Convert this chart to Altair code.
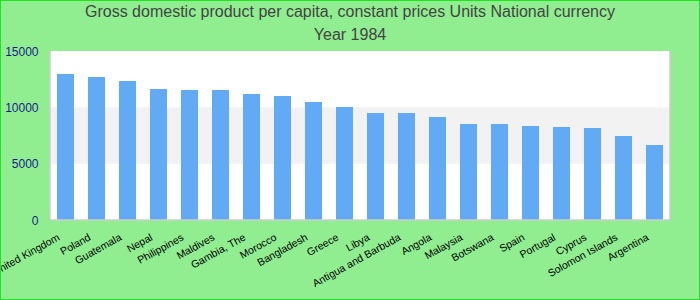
import altair as alt
import pandas as pd

countries = ["United Kingdom", "Poland", "Guatemala", "Nepal", "Philippines", "Maldives",
             "Gambia, The", "Morocco", "Bangladesh", "Greece", "Libya", "Antigua and Barbuda",
             "Angola", "Malaysia", "Botswana", "Spain", "Portugal", "Cyprus",
             "Solomon Islands", "Argentina"]
values = [12950, 12690, 12330, 11630, 11540, 11540, 11180, 11000, 10470, 10030,
          9490, 9490, 9140, 8520, 8520, 8340, 8250, 8160, 7450, 6650]
y_ticks = [0, 5000, 10000, 15000]
band_lo = [5000]
band_hi = [10000]

df = pd.DataFrame({"country": countries, "gdp": values})
bands = pd.DataFrame({"y0": band_lo, "y1": band_hi})

W, H = 620, 169

yscale = alt.Scale(domain=[0, 15000], nice=False)

band = alt.Chart(bands).mark_rect(color="#F2F2F2").encode(
    x=alt.value(0), x2=alt.value(W),
    y=alt.Y("y0:Q", scale=yscale), y2="y1:Q"
)

bars = alt.Chart(df).mark_bar(color="#63AAF5").encode(
    x=alt.X("country:N", sort=None,
            scale=alt.Scale(paddingInner=0.45, paddingOuter=0.225),
            axis=alt.Axis(title=None, labelAngle=-29, labelFontSize=10.5,
                          labelAlign="right", labelBaseline="top",
                          labelColor="#000000", ticks=False, domain=False,
                          labelPadding=12, labelOffset=-9, labelOverlap=False)),
    y=alt.Y("gdp:Q", scale=yscale,
            axis=alt.Axis(title=None, values=y_ticks, format="d", grid=False, ticks=False,
                          domain=False, labelFontSize=12, labelColor="#1a1a8c",
                          labelPadding=12)),
)

border_col = "#CCCCCC"
left = alt.Chart(bands).mark_rule(color=border_col, strokeWidth=1.5).encode(
    x=alt.value(0), y=alt.value(0), y2=alt.value(H))
right = alt.Chart(bands).mark_rule(color=border_col, strokeWidth=1.5).encode(
    x=alt.value(W), y=alt.value(0), y2=alt.value(H))
bottom = alt.Chart(bands).mark_rule(color=border_col, strokeWidth=1.5).encode(
    x=alt.value(0), x2=alt.value(W), y=alt.value(H))

chart = alt.layer(band, bars, left, right, bottom).properties(
    width=W, height=H,
    autosize=alt.AutoSizeParams(type="none"),
    padding={"left": 50, "top": 51, "right": 30, "bottom": 80},
    background="#90EE90",
    title=alt.TitleParams(
        ["Gross domestic product per capita, constant prices Units National currency", "Year 1984"],
        fontSize=16, fontWeight="normal", color="#444444", lineHeight=23,
        anchor="middle", dx=-10, offset=2),
).configure(font="Liberation Sans").configure_view(stroke=None, fill="#FFFFFF")

chart.save("out.html", embed_options={
    "renderer": "svg", "actions": False,
    "defaultStyle": "body{margin:0;} .vega-embed svg{outline:1px solid #1ee61e; outline-offset:-1px;}"
})
